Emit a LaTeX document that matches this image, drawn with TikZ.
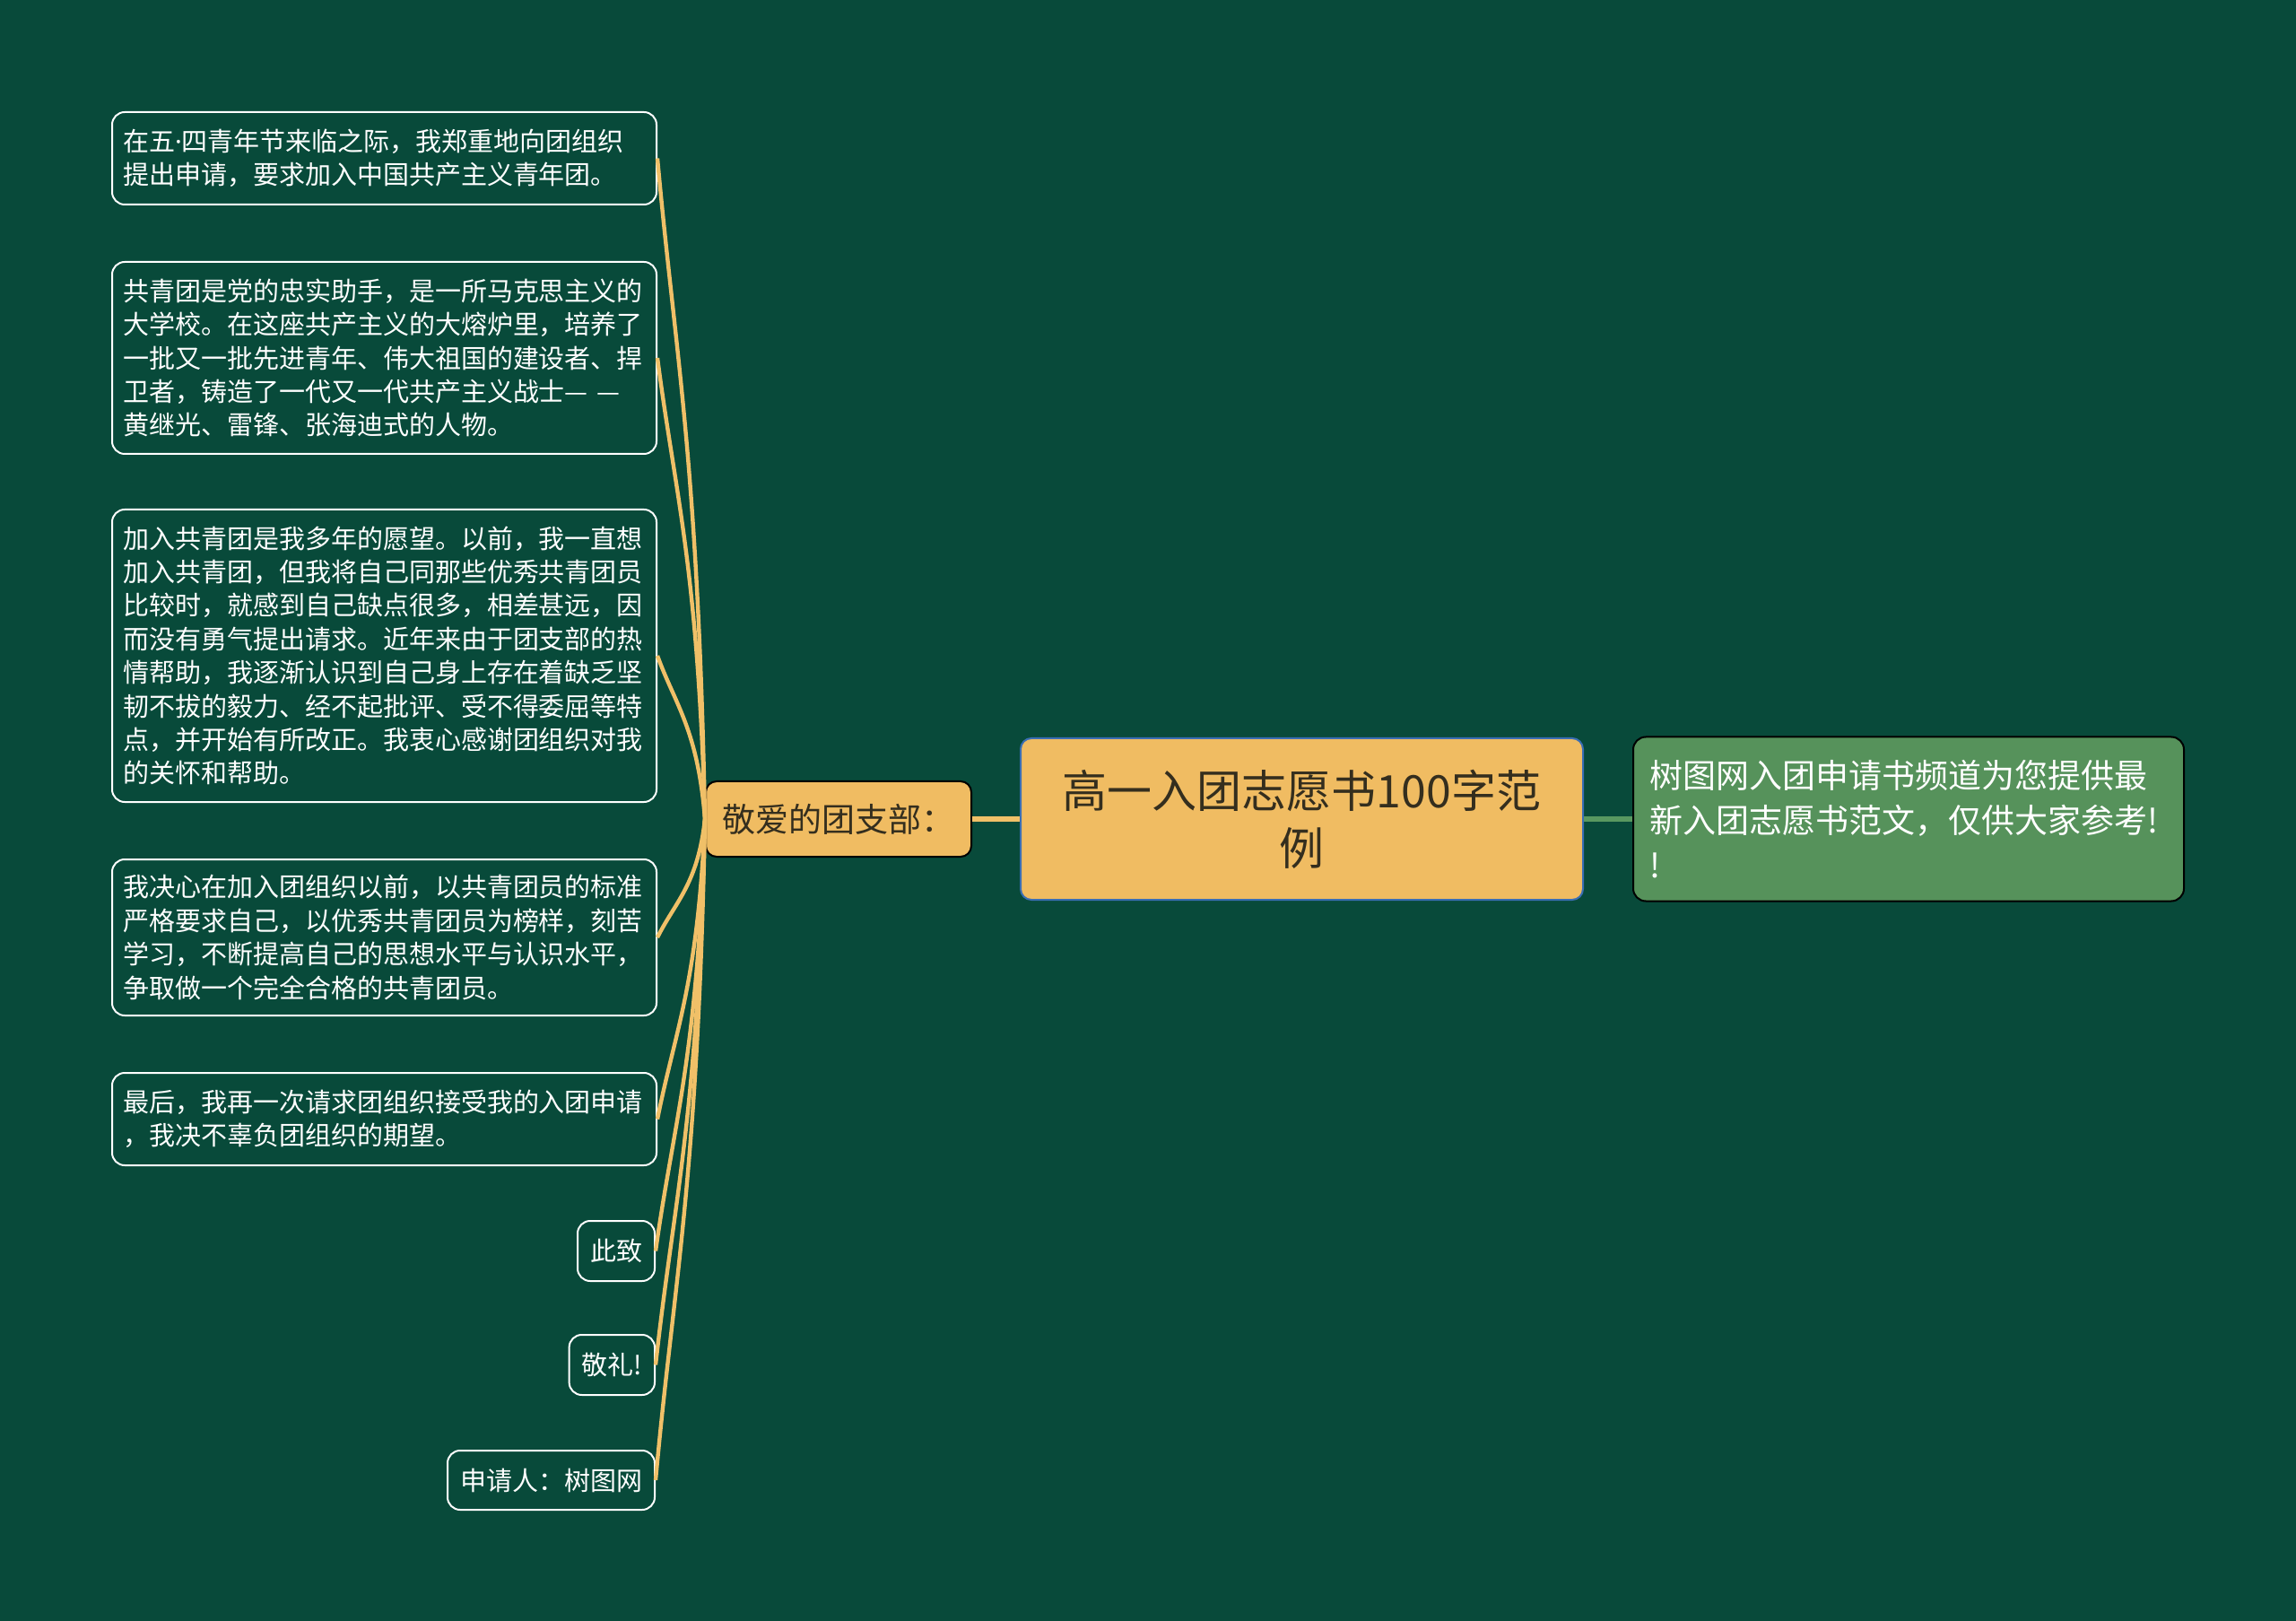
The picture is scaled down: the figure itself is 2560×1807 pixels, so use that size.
\documentclass[tikz,border=0pt]{standalone}
\usepackage{fontspec}
\setmainfont{Noto Sans CJK SC}
\newfontfamily\latinfont{Noto Sans}
\definecolor{bg}{RGB}{8,74,58}
\definecolor{orng}{RGB}{240,188,98}
\definecolor{lnorng}{RGB}{240,192,104}
\definecolor{gbox}{RGB}{86,146,91}
\definecolor{gline}{RGB}{88,152,96}
\definecolor{bluebd}{RGB}{58,110,180}
\definecolor{darktxt}{RGB}{52,46,30}
\tikzset{
  leaf/.style={draw=white, line width=1pt, rounded corners=7pt, text=white,
    font=\fontsize{14.5}{18.7}\selectfont, align=left, inner xsep=6pt, inner ysep=2pt},
  leafw/.style={leaf, text width=291.5pt},
  conn/.style={draw=lnorng, line width=2.2pt},
}
\begin{document}
\begin{tikzpicture}[x=0.5pt,y=0.5pt]
\fill[bg] (0,0) rectangle (2560,-1807);
\useasboundingbox (0,0) rectangle (2560,-1807);
% leaves
\node[leafw, minimum height=51.5pt, anchor=west] (l1) at (124,-176.5)
  {在五{\latinfont ·}四青年节来临之际，我郑重地向团组织\\提出申请，要求加入中国共产主义青年团。};
\node[leafw, minimum height=107pt, anchor=west] (l2) at (124,-399)
  {共青团是党的忠实助手，是一所马克思主义的\\大学校。在这座共产主义的大熔炉里，培养了\\一批又一批先进青年、伟大祖国的建设者、捍\\卫者，铸造了一代又一代共产主义战士— —\\黄继光、雷锋、张海迪式的人物。};
\node[leafw, minimum height=163pt, anchor=west] (l3) at (124,-731)
  {加入共青团是我多年的愿望。以前，我一直想\\加入共青团，但我将自己同那些优秀共青团员\\比较时，就感到自己缺点很多，相差甚远，因\\而没有勇气提出请求。近年来由于团支部的热\\情帮助，我逐渐认识到自己身上存在着缺乏坚\\韧不拔的毅力、经不起批评、受不得委屈等特\\点，并开始有所改正。我衷心感谢团组织对我\\的关怀和帮助。};
\node[leafw, minimum height=87pt, anchor=west] (l4) at (124,-1045)
  {我决心在加入团组织以前，以共青团员的标准\\严格要求自己，以优秀共青团员为榜样，刻苦\\学习，不断提高自己的思想水平与认识水平，\\争取做一个完全合格的共青团员。};
\node[leafw, minimum height=51.5pt, anchor=west] (l5) at (124,-1247.5)
  {最后，我再一次请求团组织接受我的入团申请\\，我决不辜负团组织的期望。};
\node[leaf, inner xsep=7pt, minimum height=33.5pt, anchor=east] (l6) at (731,-1394.5) {此致};
\node[leaf, inner xsep=7pt, minimum height=33.5pt, anchor=east] (l7) at (731,-1521.5) {敬礼!};
\node[leaf, inner xsep=7pt, minimum height=33pt, anchor=east] (l8) at (731,-1650) {申请人：树图网};
% parent
\node[draw=black, line width=1pt, fill=orng, rounded corners=6pt, text=darktxt,
  font=\fontsize{18.5}{24}\selectfont, minimum width=148pt, minimum height=42pt,
  inner sep=0pt] (p) at (935,-913) {敬爱的团支部：};
% center
\node[draw=bluebd, line width=1pt, fill=orng, rounded corners=6pt, text=darktxt,
  font=\fontsize{25}{32}\selectfont, align=center, minimum width=313.5pt,
  minimum height=90pt, inner sep=0pt] (c) at (1451.5,-913) {高一入团志愿书100字范\\例};
% right
\node[draw=black, line width=1pt, fill=gbox, rounded corners=7pt, text=white,
  font=\fontsize{18.5}{25}\selectfont, align=left, text width=289pt, inner xsep=9pt,
  minimum height=91.5pt, anchor=west] (r) at (1820,-913)
  {树图网入团申请书频道为您提供最\\新入团志愿书范文，仅供大家参考!\\!};
% connectors
\draw[draw=lnorng, line width=3pt] (p.east) -- (c.west);
\draw[draw=gline, line width=3pt] (c.east) -- (r.west);
\draw[conn] (l1.east) .. controls +(20,-221) and +(-8,405) .. (p.west);
\draw[conn] (l2.east) .. controls +(20,-154) and +(-8,283) .. (p.west);
\draw[conn] (l3.east) .. controls +(20,-55) and +(-8,100) .. (p.west);
\draw[conn] (l4.east) .. controls +(20,40) and +(-8,-73) .. (p.west);
\draw[conn] (l5.east) .. controls +(20,100) and +(-8,-184) .. (p.west);
\draw[conn] (l6.east) .. controls +(20,144) and +(-8,-265) .. (p.west);
\draw[conn] (l7.east) .. controls +(20,183) and +(-8,-335) .. (p.west);
\draw[conn] (l8.east) .. controls +(20,221) and +(-8,-405) .. (p.west);
\end{tikzpicture}
\end{document}
